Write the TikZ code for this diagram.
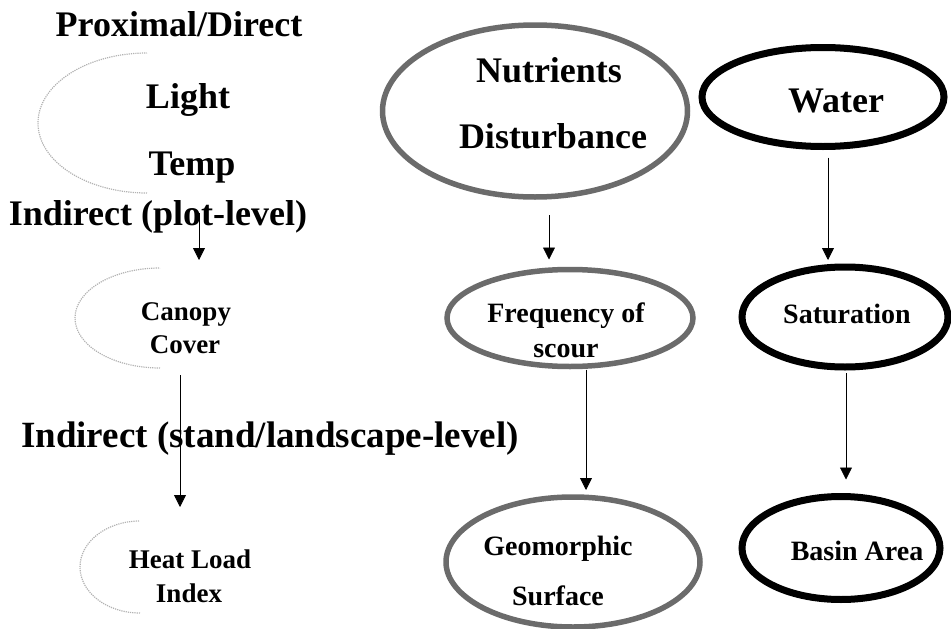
\documentclass[tikz,border=0pt]{standalone}
\usepackage{fontspec}
\setmainfont{Liberation Serif}
\usetikzlibrary{arrows.meta,shapes.geometric}

\begin{document}
\begin{tikzpicture}[x=1pt,y=-1pt,
  bigtxt/.style={font=\fontsize{36}{40}\selectfont\bfseries,anchor=base,inner sep=0pt},
  smalltxt/.style={font=\fontsize{27}{30}\selectfont\bfseries,anchor=base,inner sep=0pt},
  grayell/.style={ellipse,draw=black!58,line width=5.5pt,inner sep=0pt,outer sep=0pt},
  blackell/.style={ellipse,draw=black,line width=7pt,inner sep=0pt,outer sep=0pt},
  faint/.style={draw=black!30,line width=1.2pt,densely dotted},
  arr/.style={-{Triangle[width=12pt,length=12pt]},line width=0.8pt}]
\useasboundingbox (0,0) rectangle (951,629);

\node[bigtxt] (proximal) at (179,36) {Proximal/Direct};
\draw[faint] (147,193) arc[start angle=90,end angle=270,x radius=109,y radius=70];
\node[bigtxt] (light) at (188,108) {Light};
\node[bigtxt] (temp) at (192,175) {Temp};

\node[bigtxt] (plotlevel) at (158,225) {Indirect (plot-level)};
\draw[faint] (160,368) arc[start angle=90,end angle=270,x radius=85,y radius=50];
\node[smalltxt] (canopy) at (186,320) {Canopy};
\node[smalltxt] (cover) at (185,353) {Cover};

\node[bigtxt,font=\fontsize{37}{40}\selectfont\bfseries] (standlevel) at (270,447) {Indirect (stand/landscape-level)};
\draw[faint] (140,613) arc[start angle=90,end angle=270,x radius=60,y radius=46];
\node[smalltxt] (heatload) at (190,568) {Heat Load};
\node[smalltxt] (index) at (189,602) {Index};

\node[grayell,minimum width=305pt,minimum height=172pt] (nutrients) at (535,111) {};
\node[bigtxt] (nutrtxt) at (549,82) {Nutrients};
\node[bigtxt] (disttxt) at (553,148) {Disturbance};

\node[blackell,minimum width=242pt,minimum height=99pt] (water) at (823,97) {};
\node[bigtxt] (watertxt) at (836,112) {Water};

\node[grayell,minimum width=246pt,minimum height=97pt] (scour) at (570,318) {};
\node[smalltxt,font=\fontsize{28}{30}\selectfont\bfseries] (freqtxt) at (566,322) {Frequency of};
\node[smalltxt,font=\fontsize{28}{30}\selectfont\bfseries] (scourtxt) at (566,357) {scour};

\node[blackell,minimum width=206pt,minimum height=100pt] (saturation) at (845,317) {};
\node[smalltxt,font=\fontsize{28}{30}\selectfont\bfseries] (sattxt) at (847,323) {Saturation};

\node[grayell,minimum width=254pt,minimum height=130pt] (geomorphic) at (573,562) {};
\node[smalltxt,font=\fontsize{28}{30}\selectfont\bfseries] (geotxt) at (558,555) {Geomorphic};
\node[smalltxt,font=\fontsize{28}{30}\selectfont\bfseries] (surftxt) at (558,605) {Surface};

\node[blackell,minimum width=198pt,minimum height=103pt] (basin) at (841,548) {};
\node[smalltxt,font=\fontsize{28}{30}\selectfont\bfseries] (basintxt) at (857,560) {Basin Area};

\draw[arr] ([shift={(7,38)}]temp.base) -- ([shift={(13,-60)}]canopy.base);
\draw[arr] ([shift={(-5,22)}]cover.base) -- ([shift={(-10,-61)}]heatload.base);
\draw[arr] ([shift={(14,18)}]nutrients.south) -- ([shift={(-21,-10)}]scour.north);
\draw[arr] ([shift={(5,11)}]water.south) -- ([shift={(-17,-7)}]saturation.north);
\draw[arr] ([shift={(16,3)}]scour.south) -- ([shift={(13,-7)}]geomorphic.north);
\draw[arr] ([shift={(1,6)}]saturation.south) -- ([shift={(5,-17)}]basin.north);

\end{tikzpicture}
\end{document}
